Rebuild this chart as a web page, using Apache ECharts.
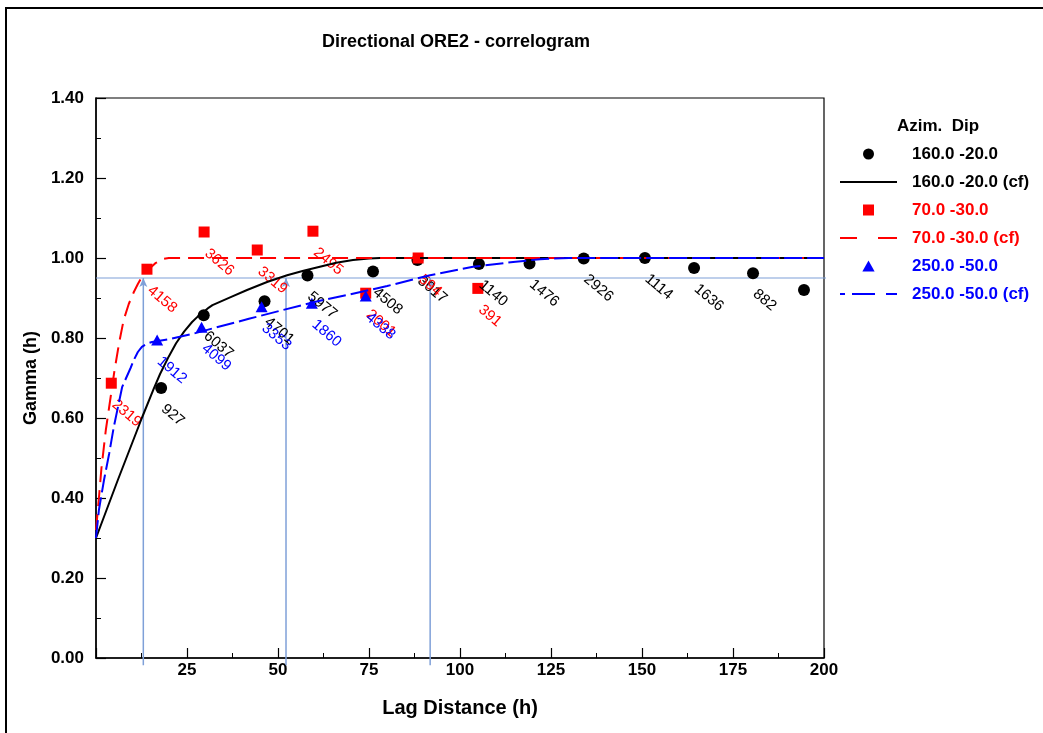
<!DOCTYPE html>
<html>
<head>
<meta charset="utf-8">
<script src="https://cdn.jsdelivr.net/npm/echarts@6/dist/echarts.min.js"></script>
<style>html,body{margin:0;padding:0;background:#fff}#c{width:1043px;height:733px}</style>
</head>
<body>
<div id="c"></div>
<script>
// ---------------- data ----------------
const blackLag   = [17.9, 29.6, 46.3, 58.1, 76.1, 88.3, 105.2, 119.1, 134.0, 150.8, 164.3, 180.5, 194.5];
const blackGamma = [0.675, 0.857, 0.892, 0.956, 0.966, 0.995, 0.985, 0.986, 0.999, 1.0, 0.975, 0.962, 0.92];
const blackPairs = ['927', '6037', '4701', '5977', '4508', '3017', '1140', '1476', '2926', '1114', '1636', '882', ''];

const redLag   = [4.2, 14.0, 29.7, 44.3, 59.6, 74.1, 88.5, 104.9];
const redGamma = [0.687, 0.972, 1.065, 1.02, 1.067, 0.912, 1.0, 0.924];
const redPairs = ['2319', '4158', '3626', '3319', '2495', '2001', '594', '391'];

const blueLag   = [16.8, 29.0, 45.5, 59.3, 74.1];
const blueGamma = [0.795, 0.827, 0.878, 0.887, 0.905];
const bluePairs = ['1912', '4099', '3353', '1860', '4338'];

// fitted models
const blackFitLag   = [0, 6, 12.6, 15.9, 17.6, 20, 22, 24.2, 26.4, 28, 29.7, 31, 32, 34.5, 37, 41.5, 47, 52.5, 57, 61.5, 66, 70.6, 75, 78, 200];
const blackFitGamma = [0.30, 0.445, 0.60, 0.674, 0.71, 0.754, 0.787, 0.816, 0.84, 0.854, 0.866, 0.876, 0.882, 0.892, 0.902, 0.92, 0.94, 0.957, 0.968, 0.978, 0.988, 0.995, 0.999, 1.0, 1.0];

const redFitLag   = [0, 0.8, 1.5, 2.7, 3.9, 5.1, 6.4, 7.6, 9, 10.4, 11.5, 12.6, 14.5, 16.3, 18.6, 20, 200];
const redFitGamma = [0.32, 0.40, 0.475, 0.57, 0.645, 0.72, 0.79, 0.845, 0.885, 0.915, 0.935, 0.953, 0.972, 0.987, 0.998, 1.0, 1.0];

const blueFitLag   = [0, 0.8, 2.2, 3.6, 4.9, 7.2, 9.5, 10.4, 11.5, 12.6, 14, 15.4, 20, 26.4, 33.7, 42, 51.4, 60, 69, 80, 91.8, 103.6, 114.6, 122, 130, 200];
const blueFitGamma = [0.30, 0.37, 0.445, 0.51, 0.578, 0.678, 0.725, 0.745, 0.765, 0.778, 0.786, 0.79, 0.797, 0.81, 0.828, 0.848, 0.87, 0.89, 0.9075, 0.93, 0.957, 0.978, 0.99, 0.997, 1.0, 1.0];

// 95% of sill guide and ranges where each model reaches it
const sill95 = 0.95;
const rangeLags = [13.0, 52.2, 91.8];

const xTickInterval = 25;
const yTickInterval = 0.2;

const names = ['160.0 -20.0', '160.0 -20.0 (cf)', '70.0 -30.0', '70.0 -30.0 (cf)', '250.0 -50.0', '250.0 -50.0 (cf)'];
const colors = ['#000000', '#000000', '#ff0000', '#ff0000', '#0000ff', '#0000ff'];

// ---------------- chart ----------------
const FONT = '"Liberation Sans", Arial, Helvetica, sans-serif';
const GUIDE = '#7fa0d8';

// legend icons (markers, and line samples drawn as dash segments)
const legendIcons = [
  'circle',
  'path://M0,0H57V2H0Z',
  'path://M0,0H10V10H0Z',
  'path://M0,0H17V2H0Z M38,0H57V2H38Z',
  'path://M5,0L10,9L0,9Z',
  'path://M0,0H5V2H0Z M12,0H35V2H12Z M46,0H57V2H46Z'
];

function pts(xs, ys, labels) {
  return xs.map((x, i) => labels ? [x, ys[i], labels[i]] : [x, ys[i]]);
}
function pointLabel(color) {
  return {
    show: true,
    formatter: p => p.data[2],
    color: color,
    fontFamily: FONT,
    fontSize: 15,
    rotate: -40,
    position: [8, 25],
    align: 'left',
    verticalAlign: 'middle'
  };
}

const series = [];
// guide lines (drawn first, beneath)
rangeLags.forEach(h => {
  series.push({
    type: 'line', silent: true, clip: false, z: 1, animation: false,
    data: [{ value: [h, -0.018], symbol: 'none' }, { value: [h, sill95], symbol: 'arrow', symbolSize: [6, 9] }],
    showSymbol: true, showAllSymbol: true,
    itemStyle: { color: GUIDE },
    lineStyle: { color: GUIDE, width: 1.5 }
  });
});
series.push({
  type: 'line', silent: true, clip: false, z: 1, animation: false,
  data: [[0, sill95], [202, sill95]], symbol: 'none',
  lineStyle: { color: GUIDE, width: 1.2 }
});

series.push({
  name: names[0], type: 'scatter', symbol: 'circle', symbolSize: 12,
  itemStyle: { color: colors[0], opacity: 1 }, label: pointLabel(colors[0]),
  data: pts(blackLag, blackGamma, blackPairs)
});
series.push({
  name: names[1], type: 'line', symbol: 'none',
  itemStyle: { color: colors[1] },
  lineStyle: { color: colors[1], width: 2, type: 'solid' },
  data: pts(blackFitLag, blackFitGamma)
});
series.push({
  name: names[2], type: 'scatter', symbol: 'rect', symbolSize: 11,
  itemStyle: { color: colors[2], opacity: 1 }, label: pointLabel(colors[2]),
  data: pts(redLag, redGamma, redPairs)
});
series.push({
  name: names[3], type: 'line', symbol: 'none',
  itemStyle: { color: colors[3] },
  lineStyle: { color: colors[3], width: 2, type: [16, 8] },
  data: pts(redFitLag, redFitGamma)
});
series.push({
  name: names[4], type: 'scatter', symbol: 'triangle', symbolSize: [12, 11],
  itemStyle: { color: colors[4], opacity: 1 }, label: pointLabel(colors[4]),
  data: pts(blueLag, blueGamma, bluePairs)
});
series.push({
  name: names[5], type: 'line', symbol: 'none',
  itemStyle: { color: colors[5] },
  lineStyle: { color: colors[5], width: 2, type: [18, 5] },
  data: pts(blueFitLag, blueFitGamma)
});

const axisLabelStyle = { fontFamily: FONT, fontSize: 17, fontWeight: 'bold', color: '#000' };

const option = {
  animation: false,
  backgroundColor: '#ffffff',
  title: [
    { text: 'Directional ORE2 - correlogram', left: 322, top: 33, padding: 0,
      textStyle: { fontFamily: FONT, fontSize: 18, fontWeight: 'bold', color: '#000' } },
    { text: 'Azim.  Dip', left: 897, top: 118, padding: 0,
      textStyle: { fontFamily: FONT, fontSize: 17, fontWeight: 'bold', color: '#000' } }
  ],
  legend: {
    orient: 'vertical', left: 840, top: 145.5, padding: 0,
    itemWidth: 57, itemHeight: 11, itemGap: 11,
    selectedMode: false, symbolKeepAspect: true,
    textStyle: { fontFamily: FONT, fontSize: 17, fontWeight: 'bold', lineHeight: 17, padding: [0, 0, 0, 10] },
    data: names.map((n, i) => ({
      name: n, icon: legendIcons[i],
      itemStyle: { color: colors[i], opacity: 1 },
      textStyle: { color: colors[i] }
    }))
  },
  grid: { left: 96, top: 98, right: 219, bottom: 75, show: true, borderColor: '#000', borderWidth: 1.2, containLabel: false },
  xAxis: {
    type: 'value', min: 0, max: 200, interval: xTickInterval,
    name: 'Lag Distance (h)', nameLocation: 'middle', nameGap: 40,
    nameTextStyle: { fontFamily: FONT, fontSize: 20, fontWeight: 'bold', color: '#000' },
    axisLine: { show: true, lineStyle: { color: '#000', width: 1.5 } },
    axisTick: { show: true, inside: true, length: 10, lineStyle: { color: '#000', width: 1.2 } },
    minorTick: { show: true, splitNumber: 2, length: 5, lineStyle: { color: '#000', width: 1 } },
    splitLine: { show: false },
    axisLabel: Object.assign({ margin: 4, formatter: v => (v === 0 ? '' : String(v)) }, axisLabelStyle)
  },
  yAxis: {
    type: 'value', min: 0, max: 1.4, interval: yTickInterval,
    name: 'Gamma (h)', nameLocation: 'middle', nameGap: 49,
    nameTextStyle: { fontFamily: FONT, fontSize: 18, fontWeight: 'bold', color: '#000' },
    axisLine: { show: true, lineStyle: { color: '#000', width: 1.5 } },
    axisTick: { show: true, inside: true, length: 10, lineStyle: { color: '#000', width: 1.2 } },
    minorTick: { show: true, splitNumber: 2, length: 5, lineStyle: { color: '#000', width: 1 } },
    splitLine: { show: false },
    axisLabel: Object.assign({ margin: 12, formatter: v => v.toFixed(2) }, axisLabelStyle)
  },
  graphic: [
    { type: 'rect', silent: true, z: -10, shape: { x: 6, y: 8, width: 1100, height: 800 },
      style: { fill: 'none', stroke: '#000', lineWidth: 2 } }
  ],
  series: series
};

const chart = echarts.init(document.getElementById('c'));
chart.setOption(option);
</script>
</body>
</html>
